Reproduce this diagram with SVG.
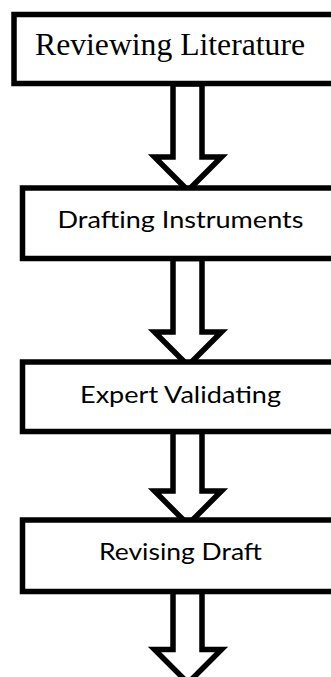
<svg xmlns="http://www.w3.org/2000/svg" width="331" height="677" viewBox="0 0 331 677">
<style>
.box{fill:#fff;stroke:#000;stroke-width:5.5}
.arr{fill:#fff;stroke:#000;stroke-width:5.5;stroke-linejoin:miter;stroke-miterlimit:10}
.serif{font-family:"Liberation Serif","Times New Roman",serif;font-size:31.5px;fill:#000}
.sans{font-family:Lato,"Noto Sans","Liberation Sans",sans-serif;font-size:23.5px;fill:#000}
</style>
<rect width="331" height="677" fill="#fff"/>
<g id="connectors">
<path class="arr" d="M173,84 V157 H154.5 L188,190.5 L221.5,157 H202 V84 Z"/>
<path class="arr" d="M173,258.5 V332 H154.5 L188,365.5 L221.5,332 H202 V258.5 Z"/>
<path class="arr" d="M173,431.5 V491 H154.5 L188,524.5 L221.5,491 H202 V431.5 Z"/>
<path class="arr" d="M173,591.5 V649.5 H154.5 L188,683 L221.5,649.5 H202 V591.5 Z"/>
</g>
<g id="node1">
<rect class="box" x="14" y="14.5" width="330" height="69"/>
<text class="serif" x="35" y="55" textLength="270" lengthAdjust="spacingAndGlyphs">Reviewing Literature</text>
</g>
<g id="node2">
<rect class="box" x="22.5" y="188" width="330" height="70.5"/>
<text class="sans" x="57.5" y="228.3" textLength="246" lengthAdjust="spacingAndGlyphs">Drafting Instruments</text>
</g>
<g id="node3">
<rect class="box" x="22.5" y="362" width="330" height="69.5"/>
<text class="sans" x="80" y="402.7" textLength="201" lengthAdjust="spacingAndGlyphs">Expert Validating</text>
</g>
<g id="node4">
<rect class="box" x="22.5" y="520" width="330" height="71.5"/>
<text class="sans" x="99" y="560" textLength="163" lengthAdjust="spacingAndGlyphs">Revising Draft</text>
</g>
</svg>
